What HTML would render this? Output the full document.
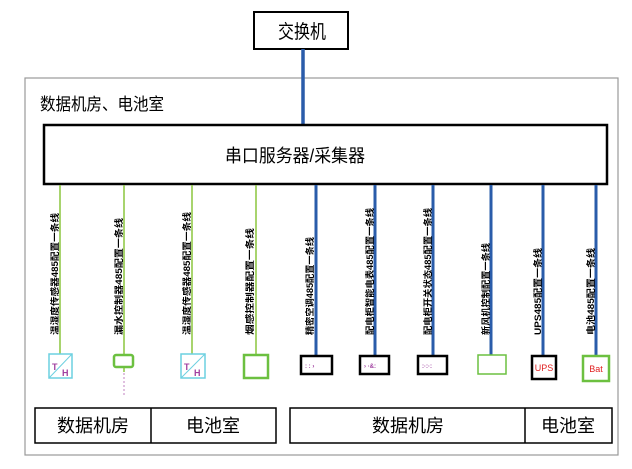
<!DOCTYPE html>
<html><head><meta charset="utf-8"><style>
html,body{margin:0;padding:0;background:#fff;}
svg{display:block;}
text{font-family:"Liberation Sans","Noto Sans CJK SC",sans-serif;}
.v{font-size:9px;font-weight:bold;fill:#000;}
</style></head><body>
<svg width="632" height="469" viewBox="0 0 632 469" xmlns="http://www.w3.org/2000/svg">
<rect x="25" y="78" width="593" height="377" fill="none" stroke="#999" stroke-width="1.2"/>
<text x="40" y="110" font-size="17" textLength="124" lengthAdjust="spacingAndGlyphs">数据机房、电池室</text>
<rect x="254" y="12" width="94" height="37" fill="#fff" stroke="#000" stroke-width="2"/>
<text x="278" y="38" font-size="19" textLength="48" lengthAdjust="spacingAndGlyphs">交换机</text>
<line x1="303" y1="49" x2="303" y2="125" stroke="#2a5caa" stroke-width="3.5"/>
<rect x="44" y="125" width="563" height="59" fill="#fff" stroke="#000" stroke-width="2.5"/>
<text x="225" y="162" font-size="18" textLength="140" lengthAdjust="spacingAndGlyphs">串口服务器/采集器</text>
<g stroke="#8cc63f" stroke-width="1.5">
<line x1="60" y1="185" x2="60" y2="354"/>
<line x1="124" y1="185" x2="124" y2="355"/>
<line x1="192" y1="185" x2="192" y2="354"/>
<line x1="256" y1="185" x2="256" y2="355"/>
<line x1="124" y1="367" x2="124" y2="372"/>
</g>
<line x1="124" y1="373" x2="124" y2="397" stroke="#c080c0" stroke-width="1" stroke-dasharray="2,2"/>
<g stroke="#2a5caa" stroke-width="3">
<line x1="316" y1="185" x2="316" y2="355"/>
<line x1="375" y1="185" x2="375" y2="355"/>
<line x1="433" y1="185" x2="433" y2="355"/>
<line x1="491" y1="185" x2="491" y2="355"/>
<line x1="543" y1="185" x2="543" y2="355"/>
<line x1="596" y1="185" x2="596" y2="355"/>
</g>
<g class="v" lengthAdjust="spacingAndGlyphs">
<text class="v" transform="translate(58,335) rotate(-90)" textLength="122" lengthAdjust="spacingAndGlyphs">温湿度传感器485配置一条线</text>
<text class="v" transform="translate(122,335) rotate(-90)" textLength="117" lengthAdjust="spacingAndGlyphs">漏水控制器485配置一条线</text>
<text class="v" transform="translate(190,335) rotate(-90)" textLength="123" lengthAdjust="spacingAndGlyphs">温湿度传感器485配置一条线</text>
<text class="v" transform="translate(253,335) rotate(-90)" textLength="107" lengthAdjust="spacingAndGlyphs">烟感控制器配置一条线</text>
<text class="v" transform="translate(313,335) rotate(-90)" textLength="98" lengthAdjust="spacingAndGlyphs">精密空调485配置一条线</text>
<text class="v" transform="translate(373,335) rotate(-90)" textLength="127" lengthAdjust="spacingAndGlyphs">配电柜智能电表485配置一条线</text>
<text class="v" transform="translate(431,335) rotate(-90)" textLength="127" lengthAdjust="spacingAndGlyphs">配电柜开关状态485配置一条线</text>
<text class="v" transform="translate(489,335) rotate(-90)" textLength="92" lengthAdjust="spacingAndGlyphs">新风机控制配置一条线</text>
<text class="v" transform="translate(541,335) rotate(-90)" textLength="87" lengthAdjust="spacingAndGlyphs">UPS485配置一条线</text>
<text class="v" transform="translate(594,335) rotate(-90)" textLength="87" lengthAdjust="spacingAndGlyphs">电池485配置一条线</text>
</g>
<g fill="#fff">
<rect x="49" y="354" width="23" height="24" stroke="#6cd0e0" stroke-width="1.5"/>
<line x1="49" y1="378" x2="72" y2="354" stroke="#6cd0e0" stroke-width="1"/>
<rect x="114" y="355" width="19" height="12" rx="2" stroke="#6cc040" stroke-width="2.5"/>
<rect x="181" y="354" width="24" height="24" stroke="#6cd0e0" stroke-width="1.5"/>
<line x1="181" y1="378" x2="205" y2="354" stroke="#6cd0e0" stroke-width="1"/>
<rect x="244" y="355" width="24" height="23" stroke="#6cc040" stroke-width="2.5"/>
<rect x="301" y="356" width="31" height="18" stroke="#000" stroke-width="2.5"/>
<rect x="360" y="356" width="29" height="18" stroke="#000" stroke-width="2.5"/>
<rect x="418" y="356" width="29" height="18" stroke="#000" stroke-width="2.5"/>
<rect x="478" y="355" width="28" height="19" stroke="#6cc040" stroke-width="1.5"/>
<rect x="532" y="356" width="24" height="23" stroke="#000" stroke-width="2.5"/>
<rect x="583" y="356" width="26" height="25" stroke="#6cc040" stroke-width="2.5"/>
</g>
<g font-size="9" font-weight="bold" fill="#a040a0">
<text x="52" y="370">T</text><text x="62" y="376">H</text>
<text x="184" y="370">T</text><text x="194" y="376">H</text>
<text x="305" y="368" font-size="6">: : ›</text>
<text x="364" y="368" font-size="6">› ·&amp;:</text>
<text x="422" y="368" font-size="6">:·:·:</text>
</g>
<text x="544" y="371" font-size="9" fill="#e02020" text-anchor="middle">UPS</text>
<text x="596" y="372" font-size="9" fill="#e02020" text-anchor="middle">Bat</text>
<rect x="35" y="408" width="241" height="35" fill="none" stroke="#000" stroke-width="1.5"/>
<line x1="151" y1="408" x2="151" y2="443" stroke="#000" stroke-width="1.5"/>
<text x="93" y="432" font-size="18" text-anchor="middle">数据机房</text>
<text x="213" y="432" font-size="18" text-anchor="middle">电池室</text>
<rect x="290" y="408" width="322" height="35" fill="none" stroke="#000" stroke-width="1.5"/>
<line x1="525" y1="408" x2="525" y2="443" stroke="#000" stroke-width="1.5"/>
<text x="408" y="432" font-size="18" text-anchor="middle">数据机房</text>
<text x="568" y="432" font-size="18" text-anchor="middle">电池室</text>
</svg>
</body></html>
